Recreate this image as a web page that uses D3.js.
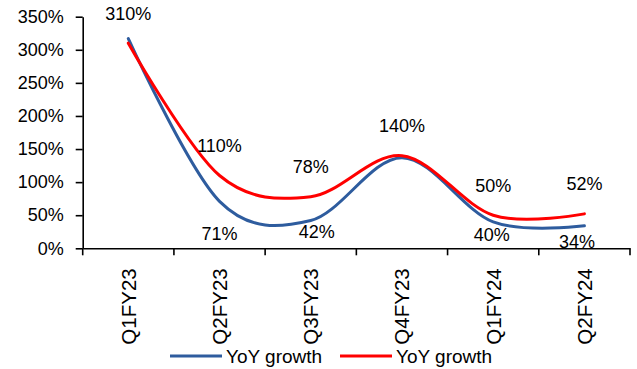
<!DOCTYPE html>
<html>
<head>
<meta charset="utf-8">
<script src="https://cdn.jsdelivr.net/npm/d3@7"></script>
<style>
  html, body { margin: 0; padding: 0; background: #fff; }
  svg { display: block; }
  text { font-family: "Liberation Sans", Arial, sans-serif; fill: #000; }
</style>
</head>
<body>
<svg id="chart" width="637" height="369"></svg>
<script>
// ---- data ----
const categories = ["Q1FY23", "Q2FY23", "Q3FY23", "Q4FY23", "Q1FY24", "Q2FY24"];
const blueValues = [317, 71, 42, 137, 40, 34];
const redValues  = [310, 110, 78, 140, 50, 52];
const blueLabelShown = [false, true, true, false, true, true];
const redLabelShown  = [true, true, true, true, true, true];
const yTicks = [0, 50, 100, 150, 200, 250, 300, 350];
const seriesNames = ["YoY growth", "YoY growth"];

// ---- layout ----
const plotLeft = 82.7, plotRight = 630, plotTop = 16.7, plotBottom = 248.3;
const blueColor = "#2E5C9E", redColor = "#FF0000";
// manual label nudges (dx, dy) relative to point, as placed in the original
const blueNudge = [[0, 32], [0, 32], [6, 11], [0, 32], [-1.5, 13], [-7.5, 16]];
const redNudge = [0, -30];

const svg = d3.select("#chart");

const x = d3.scaleBand().domain(categories).range([plotLeft, plotRight]).padding(0);
const y = d3.scaleLinear().domain([0, 350]).range([plotBottom, plotTop]);
const cx = d => x(d) + x.bandwidth() / 2;

// y axis
const yAxis = d3.axisLeft(y).tickValues(yTicks).tickFormat(d => d + "%")
  .tickSizeInner(7).tickSizeOuter(0).tickPadding(12);
const gy = svg.append("g").attr("transform", `translate(${plotLeft},0)`).call(yAxis);
gy.select(".domain").attr("stroke", "#000").attr("stroke-width", 1.6);
gy.selectAll(".tick line").attr("stroke", "#000").attr("stroke-width", 1.6);
gy.selectAll(".tick text").attr("font-size", 18).attr("font-family", "Liberation Sans, Arial, sans-serif").attr("fill", "#000");

// x axis (labels at centers, ticks at category boundaries)
const xAxis = d3.axisBottom(x).tickSize(0).tickSizeOuter(0);
const gx = svg.append("g").attr("transform", `translate(0,${plotBottom})`).call(xAxis);
gx.select(".domain").attr("stroke", "#000").attr("stroke-width", 1.6);
gx.selectAll(".tick text")
  .attr("font-size", 20.5)
  .attr("font-family", "Liberation Sans, Arial, sans-serif")
  .attr("fill", "#000")
  .attr("text-anchor", "end")
  .attr("transform", "rotate(-90)")
  .attr("x", -20)
  .attr("y", 0)
  .attr("dy", "0.36em");
const boundaries = categories.map(c => x(c)).concat([x(categories[categories.length - 1]) + x.bandwidth()]);
svg.append("g").selectAll("line").data(boundaries).join("line")
  .attr("x1", d => d).attr("x2", d => d)
  .attr("y1", plotBottom).attr("y2", plotBottom + 7)
  .attr("stroke", "#000").attr("stroke-width", 1.6);

// lines
const line = d3.line()
  .x((d, i) => cx(categories[i]))
  .y(d => y(d))
  .curve(d3.curveCardinal.tension(0));

svg.append("path").datum(blueValues)
  .attr("d", line).attr("fill", "none")
  .attr("stroke", blueColor).attr("stroke-width", 3).attr("stroke-linecap", "round");
svg.append("path").datum(redValues)
  .attr("d", line).attr("fill", "none")
  .attr("stroke", redColor).attr("stroke-width", 3).attr("stroke-linecap", "round");

// data labels
svg.append("g").selectAll("text")
  .data(redValues.map((v, i) => ({ v, i })).filter(d => redLabelShown[d.i]))
  .join("text")
  .attr("x", d => cx(categories[d.i]) + redNudge[0])
  .attr("y", d => y(d.v) + redNudge[1])
  .attr("dy", "0.36em")
  .attr("text-anchor", "middle")
  .attr("font-size", 18)
  .text(d => d.v + "%");

svg.append("g").selectAll("text")
  .data(blueValues.map((v, i) => ({ v, i })).filter(d => blueLabelShown[d.i]))
  .join("text")
  .attr("x", d => cx(categories[d.i]) + blueNudge[d.i][0])
  .attr("y", d => y(d.v) + blueNudge[d.i][1])
  .attr("dy", "0.36em")
  .attr("text-anchor", "middle")
  .attr("font-size", 18)
  .text(d => d.v + "%");

// legend
const legend = [
  { name: seriesNames[0], color: blueColor, x0: 170 },
  { name: seriesNames[1], color: redColor, x0: 340 }
];
const lg = svg.append("g");
legend.forEach(l => {
  lg.append("line")
    .attr("x1", l.x0).attr("x2", l.x0 + 52)
    .attr("y1", 356).attr("y2", 356)
    .attr("stroke", l.color).attr("stroke-width", 3);
  lg.append("text")
    .attr("x", l.x0 + 56).attr("y", 356).attr("dy", "0.36em")
    .attr("font-size", 19)
    .text(l.name);
});
</script>
</body>
</html>
